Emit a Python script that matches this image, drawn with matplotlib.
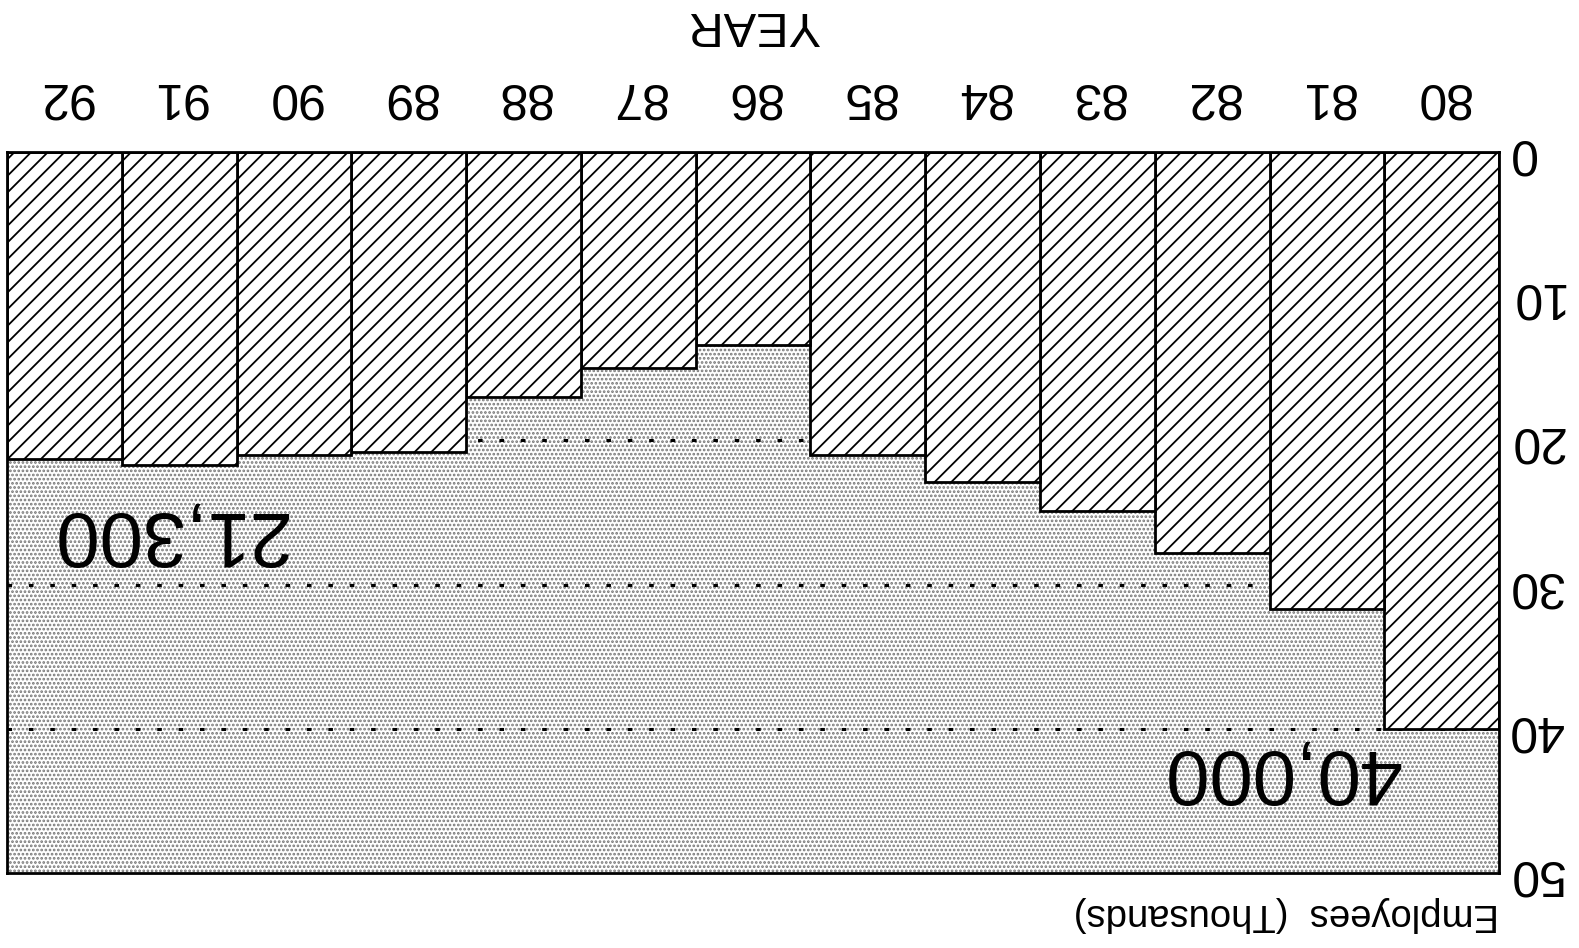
import matplotlib
matplotlib.use("Agg")
from matplotlib import pyplot as plt
from matplotlib.patches import Rectangle

# data (thousands of employees), the scan is upside down so axes are inverted
years = [80, 81, 82, 83, 84, 85, 86, 87, 88, 89, 90, 91, 92]
year_labels = ["80", "81", "82", "83", "84", "85", "86", "87", "88", "89", "90", "91", "92"]
employees = [40.0, 31.7, 27.8, 24.9, 22.9, 21.0, 13.4, 15.0, 17.0, 20.8, 21.0, 21.7, 21.3]
y_ticks = [0, 10, 20, 30, 40, 50]
callouts = [(81.4, 42.9, "40,000"), (91.1, 26.4, "21,300")]

plt.rcParams['font.family'] = ['Liberation Sans', 'DejaVu Sans']
plt.rcParams['hatch.linewidth'] = 1.3

fig = plt.figure(figsize=(15.79, 9.48), dpi=100)
ax = fig.add_axes([0.0044, 0.0791, 0.945, 0.7606])

# stippled background
bg = Rectangle((0, 0), 1, 1, transform=ax.transAxes, facecolor="white",
               edgecolor="#777777", hatch="....", linewidth=0, zorder=0)
ax.add_patch(bg)

# dotted gridlines
for g in [20, 30, 40]:
    ax.axhline(g, color="black", linestyle=(0, (1.5, 5.5)), linewidth=2.2, zorder=1)

ax.bar(years, employees, width=1.0, color="white", edgecolor="black",
       hatch="//", linewidth=2, zorder=2)

for x, y, s in callouts:
    ax.text(x, y, s, fontsize=56, rotation=180, ha="center", va="center", zorder=3)

ax.set_xlim(92.5, 79.5)
ax.set_ylim(50, 0)
ax.set_xticks(years)
ax.set_xticklabels(year_labels)
ax.set_yticks(y_ticks)
ax.xaxis.tick_top()
ax.yaxis.tick_right()
ax.tick_params(axis="both", length=0, labelsize=36, labelrotation=180)
ax.tick_params(axis="x", pad=24)
ax.tick_params(axis="y", pad=6)
for lbl in ax.get_yticklabels():
    lbl.set_va("center")
for sp in ax.spines.values():
    sp.set_linewidth(2)

fig.text(0.4768, 0.974, "YEAR", fontsize=35, rotation=180, ha="center", va="center")
fig.text(0.9493, 0.036, "Employees  (Thousands)", fontsize=27.5, rotation=180,
         ha="right", va="center")

plt.savefig("out.png", dpi=100)
